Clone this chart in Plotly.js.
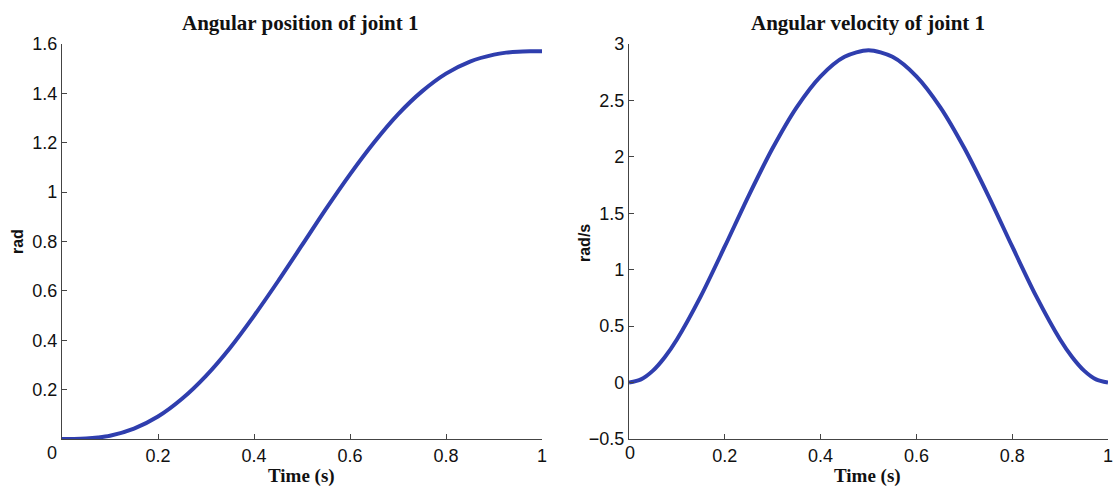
<!DOCTYPE html>
<html>
<head>
<meta charset="utf-8">
<script src="https://cdn.plot.ly/plotly-3.0.1.min.js"></script>
<style>html,body{margin:0;padding:0;background:#fff;}#chart{width:1113px;height:487px;}</style>
</head>
<body>
<div id="chart"></div>
<script>
const time = [0, 0.025, 0.05, 0.075, 0.1, 0.15, 0.2, 0.25, 0.3, 0.35, 0.4, 0.45, 0.5, 0.55, 0.6, 0.65, 0.7, 0.75, 0.8, 0.85, 0.9, 0.925, 0.95, 0.975, 1];
const position = [0, 0.0002, 0.002, 0.006, 0.013, 0.042, 0.091, 0.163, 0.256, 0.369, 0.499, 0.639, 0.785, 0.932, 1.072, 1.201, 1.315, 1.408, 1.480, 1.529, 1.557, 1.565, 1.569, 1.5706, 1.571];
const velocity = [0, 0.028, 0.106, 0.227, 0.382, 0.766, 1.206, 1.657, 2.078, 2.439, 2.714, 2.887, 2.945, 2.887, 2.714, 2.439, 2.078, 1.657, 1.206, 0.766, 0.382, 0.227, 0.106, 0.028, 0];
const xTicks = [0, 0.2, 0.4, 0.6, 0.8, 1];
const xTickText = ["", "0.2", "0.4", "0.6", "0.8", "1"];
const xZeroLabel = "0";
const posTicks = [0.2, 0.4, 0.6, 0.8, 1, 1.2, 1.4, 1.6];
const posTickText = ["0.2", "0.4", "0.6", "0.8", "1", "1.2", "1.4", "1.6"];
const velTicks = [-0.5, 0, 0.5, 1, 1.5, 2, 2.5, 3];
const velTickText = ["\u22120.5", "0", "0.5", "1", "1.5", "2", "2.5", "3"];

const lineColor = "#2f3eae";
const traces = [
  {x: time, y: position, type: "scatter", mode: "lines", line: {color: lineColor, width: 4, shape: "spline", smoothing: 0.8}, xaxis: "x", yaxis: "y", hoverinfo: "skip"},
  {x: time, y: velocity, type: "scatter", mode: "lines", line: {color: lineColor, width: 4, shape: "spline", smoothing: 0.8}, xaxis: "x2", yaxis: "y2", hoverinfo: "skip"}
];
const tickFont = {family: "Liberation Sans, Arial, sans-serif", size: 18, color: "#111"};
function ax(extra) {
  return Object.assign({
    showgrid: false, zeroline: false, showline: true, linecolor: "#444", linewidth: 1.2,
    ticks: "inside", ticklen: 5, tickwidth: 1, tickcolor: "#444", tickfont: tickFont,
    tickmode: "array", fixedrange: true, mirror: false, ticklabeloverflow: "allow"
  }, extra);
}
const yTop = 1 - 44/487, yBot = 1 - 439/487;
const serif = "Liberation Serif, Times New Roman, serif";
const sans = "Liberation Sans, Arial, sans-serif";
const layout = {
  width: 1113, height: 487,
  margin: {l: 0, r: 0, t: 0, b: 0},
  paper_bgcolor: "#fff", plot_bgcolor: "#fff",
  showlegend: false,
  xaxis: ax({domain: [62/1113, 542/1113], range: [0, 1], tickvals: xTicks, ticktext: xTickText, anchor: "y"}),
  yaxis: ax({domain: [yBot, yTop], range: [0, 1.6], tickvals: posTicks, ticktext: posTickText, anchor: "x"}),
  xaxis2: ax({domain: [629/1113, 1108/1113], range: [0, 1], tickvals: xTicks, ticktext: xTickText, anchor: "y2"}),
  yaxis2: ax({domain: [yBot, yTop], range: [-0.5, 3], tickvals: velTicks, ticktext: velTickText, anchor: "x2"}),
  annotations: [
    {text: xZeroLabel, xref: "paper", yref: "paper", x: 52/1113, y: 1 - 453/487, showarrow: false, xanchor: "center", yanchor: "middle", font: tickFont},
    {text: xZeroLabel, xref: "paper", yref: "paper", x: 630/1113, y: 1 - 453/487, showarrow: false, xanchor: "center", yanchor: "middle", font: tickFont},
    {text: "<b>Angular position of joint 1</b>", xref: "paper", yref: "paper", x: 300/1113, y: 1 - 23/487, showarrow: false, xanchor: "center", yanchor: "middle", font: {family: serif, size: 21, color: "#111"}},
    {text: "<b>Angular velocity of joint 1</b>", xref: "paper", yref: "paper", x: 868/1113, y: 1 - 23/487, showarrow: false, xanchor: "center", yanchor: "middle", font: {family: serif, size: 21, color: "#111"}},
    {text: "<b>Time (s)</b>", xref: "paper", yref: "paper", x: 301/1113, y: 1 - 476/487, showarrow: false, xanchor: "center", yanchor: "middle", font: {family: serif, size: 19, color: "#111"}},
    {text: "<b>Time (s)</b>", xref: "paper", yref: "paper", x: 867/1113, y: 1 - 476/487, showarrow: false, xanchor: "center", yanchor: "middle", font: {family: serif, size: 19, color: "#111"}},
    {text: "<b>rad</b>", xref: "paper", yref: "paper", x: 18/1113, y: 1 - 242/487, showarrow: false, textangle: -90, xanchor: "center", yanchor: "middle", font: {family: sans, size: 16, color: "#111"}},
    {text: "<b>rad/s</b>", xref: "paper", yref: "paper", x: 584/1113, y: 1 - 243/487, showarrow: false, textangle: -90, xanchor: "center", yanchor: "middle", font: {family: sans, size: 16, color: "#111"}}
  ]
};
Plotly.newPlot("chart", traces, layout, {displayModeBar: false, staticPlot: true});
</script>
</body>
</html>
